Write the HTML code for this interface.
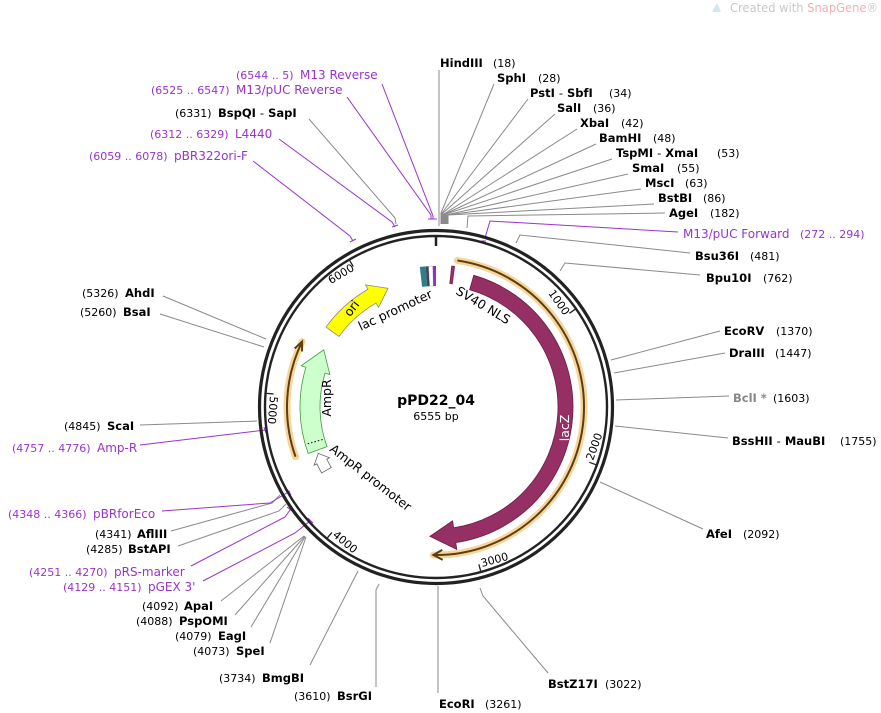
<!DOCTYPE html>
<html><head><meta charset="utf-8"><style>
html,body{margin:0;padding:0;background:#fff;}
svg{display:block;font-family:"DejaVu Sans","Liberation Sans",sans-serif;}
.b{font-weight:bold;font-size:11.5px;fill:#000}
.n{font-size:11px;fill:#000}
.p{font-size:12px;fill:#9933cc}
.pn{font-size:11px;fill:#9933cc}
.t{font-size:11px;fill:#000}
</style></head><body>
<svg id="s" width="881" height="713" viewBox="0 0 881 713" xmlns="http://www.w3.org/2000/svg">
<text x="730" y="12" textLength="148" lengthAdjust="spacingAndGlyphs" style="font-size:12px;fill:#c8c8c8">Created with <tspan fill="#f0b0b0">SnapGene</tspan>®</text>
<path d="M712 12 L717 3 L721 12" fill="#cde8ee"/>
<g id="lead" fill="none" stroke-width="1"></g>
<g id="ring"></g>
<g id="feat"></g>

<text x="440" y="67" class="b">HindIII</text><text x="493" y="67" class="n">(18)</text>
<text x="497" y="82" class="b">SphI</text><text x="538" y="82" class="n">(28)</text>
<text x="530" y="97" class="b">PstI <tspan font-weight="normal">-</tspan> SbfI</text><text x="609" y="97" class="n">(34)</text>
<text x="557" y="112" class="b">SalI</text><text x="593" y="112" class="n">(36)</text>
<text x="580" y="127" class="b">XbaI</text><text x="621" y="127" class="n">(42)</text>
<text x="599" y="142" class="b">BamHI</text><text x="653" y="142" class="n">(48)</text>
<text x="616" y="157" class="b">TspMI <tspan font-weight="normal">-</tspan> XmaI</text><text x="717" y="157" class="n">(53)</text>
<text x="632" y="172" class="b">SmaI</text><text x="677" y="172" class="n">(55)</text>
<text x="645" y="187" class="b">MscI</text><text x="685" y="187" class="n">(63)</text>
<text x="658" y="202" class="b">BstBI</text><text x="703" y="202" class="n">(86)</text>
<text x="669" y="217" class="b">AgeI</text><text x="710" y="217" class="n">(182)</text>
<text x="683" y="238" class="p">M13/pUC Forward</text><text x="800" y="238" class="pn">(272 .. 294)</text>
<text x="695" y="260" class="b">Bsu36I</text><text x="750" y="260" class="n">(481)</text>
<text x="706" y="282" class="b">Bpu10I</text><text x="763" y="282" class="n">(762)</text>
<text x="724" y="335" class="b">EcoRV</text><text x="776" y="335" class="n">(1370)</text>
<text x="729" y="357" class="b">DraIII</text><text x="775" y="357" class="n">(1447)</text>
<text x="733" y="402" class="b" style="fill:#888">BclI *</text><text x="773" y="402" class="n">(1603)</text>
<text x="732" y="445" class="b">BssHII <tspan font-weight="normal">-</tspan> MauBI</text><text x="840" y="445" class="n">(1755)</text>
<text x="706" y="538" class="b">AfeI</text><text x="743" y="538" class="n">(2092)</text>
<text x="548" y="688" class="b">BstZ17I</text><text x="605" y="688" class="n">(3022)</text>
<text x="439" y="708" class="b">EcoRI</text><text x="485" y="708" class="n">(3261)</text>
<text x="294" y="700" class="n">(3610)</text><text x="337" y="700" class="b">BsrGI</text>
<text x="219" y="682" class="n">(3734)</text><text x="262" y="682" class="b">BmgBI</text>
<text x="193" y="655" class="n">(4073)</text><text x="236" y="655" class="b">SpeI</text>
<text x="175" y="640" class="n">(4079)</text><text x="218" y="640" class="b">EagI</text>
<text x="136" y="625" class="n">(4088)</text><text x="179" y="625" class="b">PspOMI</text>
<text x="142" y="610" class="n">(4092)</text><text x="184" y="610" class="b">ApaI</text>
<text x="63" y="591" class="pn">(4129 .. 4151)</text><text x="148" y="591" class="p">pGEX 3'</text>
<text x="29" y="576" class="pn">(4251 .. 4270)</text><text x="114" y="576" class="p">pRS-marker</text>
<text x="86" y="553" class="n">(4285)</text><text x="128" y="553" class="b">BstAPI</text>
<text x="95" y="538" class="n">(4341)</text><text x="137" y="538" class="b">AflIII</text>
<text x="8" y="518" class="pn">(4348 .. 4366)</text><text x="93" y="518" class="p">pBRforEco</text>
<text x="82" y="297" class="n">(5326)</text><text x="125" y="297" class="b">AhdI</text>
<text x="80" y="316" class="n">(5260)</text><text x="123" y="316" class="b">BsaI</text>
<text x="64" y="430" class="n">(4845)</text><text x="107" y="430" class="b">ScaI</text>
<text x="12" y="452" class="pn">(4757 .. 4776)</text><text x="97" y="452" class="p">Amp-R</text>
<text x="236" y="79" class="pn">(6544 .. 5)</text><text x="300" y="79" class="p">M13 Reverse</text>
<text x="151" y="94" class="pn">(6525 .. 6547)</text><text x="236" y="94" class="p">M13/pUC Reverse</text>
<text x="175" y="117" class="n">(6331)</text><text x="218" y="117" class="b">BspQI <tspan font-weight="normal">-</tspan> SapI</text>
<text x="150" y="138" class="pn">(6312 .. 6329)</text><text x="235" y="138" class="p">L4440</text>
<text x="89" y="160" class="pn">(6059 .. 6078)</text><text x="174" y="160" class="p">pBR322ori-F</text>

<text x="436" y="405" text-anchor="middle" style="font-weight:bold;font-size:14px">pPD22_04</text>
<text x="436" y="420" text-anchor="middle" style="font-size:11px">6555 bp</text>

<text class="t" text-anchor="end" transform="translate(564,316) rotate(54.9)">1000</text>
<text class="t" text-anchor="end" transform="translate(355,270) rotate(-30.5)">6000</text>
<text class="t" transform="translate(593,461) rotate(-70.2)">2000</text>
<text class="t" transform="translate(482,567) rotate(-15.2)">3000</text>
<text class="t" transform="translate(332,536) rotate(39.7)">4000</text>
<text class="t" transform="translate(270,396) rotate(94.6)">5000</text>

<text transform="translate(397,314) rotate(-25)" text-anchor="middle" style="font-size:12.5px">lac promoter</text>
<text transform="translate(481,309) rotate(31)" text-anchor="middle" style="font-size:12.5px">SV40 NLS</text>
<text transform="translate(355,311) rotate(-52)" text-anchor="middle" style="font-size:12.5px">ori</text>
<text id="lz" transform="translate(569,428) rotate(-90)" text-anchor="middle" style="font-size:12.5px;fill:#fff">lacZ</text>
<text transform="translate(331,398) rotate(-90)" text-anchor="middle" style="font-size:12.5px">AmpR</text>
<text transform="translate(368,481) rotate(38)" text-anchor="middle" style="font-size:12.5px">AmpR promoter</text>
</svg>
<script>
var cx=436,cy=407,NS="http://www.w3.org/2000/svg";
function P(a,r){var t=a*Math.PI/180;return (cx+r*Math.sin(t)).toFixed(2)+" "+(cy-r*Math.cos(t)).toFixed(2);}
function el(g,tag,at,before){var e=document.createElementNS(NS,tag);for(var k in at)e.setAttribute(k,at[k]);document.getElementById(g).appendChild(e);return e;}
function A(a1,a2,r,sw){var l=Math.abs(a2-a1)>180?1:0;return "A"+r+" "+r+" 0 "+l+" "+sw+" "+P(a2,r);}
function cw(a1,a2,ri,ro,h,x){var b=a2-h,m=(ri+ro)/2;return "M"+P(a1,ro)+A(a1,b,ro,1)+"L"+P(b,ro+x)+"L"+P(a2,m)+"L"+P(b,ri-x)+"L"+P(b,ri)+A(b,a1,ri,0)+"Z";}
el("ring","circle",{cx:cx,cy:cy,r:176.5,fill:"none",stroke:"#222","stroke-width":3.2});
el("ring","circle",{cx:cx,cy:cy,r:171,fill:"none",stroke:"#222","stroke-width":2.4});
el("ring","line",{x1:436,y1:236,x2:436,y2:246,stroke:"#222","stroke-width":2.5});
[54.92,109.84,164.76,219.68,274.6,329.5].forEach(function(a){var p1=P(a,170).split(" "),p2=P(a,163).split(" ");el("ring","line",{x1:p1[0],y1:p1[1],x2:p2[0],y2:p2[1],stroke:"#222","stroke-width":1.3});});
function oarc(d){el("feat","path",{d:d,fill:"none",stroke:"#f8d49a","stroke-width":7,"stroke-linecap":"round"});el("feat","path",{d:d,fill:"none",stroke:"#5a4010","stroke-width":2});}
oarc("M"+P(8.3,148)+A(8.3,181,148,1));
oarc("M"+P(250.5,149)+A(250.5,296,149,1));
el("feat","path",{d:"M"+P(177.5,153)+"L"+P(181,148)+"L"+P(177.5,143),fill:"none",stroke:"#5a4010","stroke-width":2});
el("feat","path",{d:"M"+P(292.5,153)+"L"+P(296,149)+"L"+P(292.5,145),fill:"none",stroke:"#5a4010","stroke-width":2});
el("feat","path",{d:cw(16,182.7,122,137,11,7),fill:"#962f63",stroke:"#6a1f45","stroke-width":0.8});
el("feat","path",{d:cw(250,297,116,136,10,5),fill:"#ccffcc",stroke:"#3f9a3f","stroke-width":0.8});
el("feat","path",{d:"M"+P(254,118)+"L"+P(254,134),stroke:"#000","stroke-width":1,"stroke-dasharray":"1.5 2"});
el("feat","path",{d:cw(240,248.5,121,132,4,3),fill:"#fff",stroke:"#666","stroke-width":0.8});
el("feat","path",{d:cw(306,338,120,136,8,5),fill:"#ffff00",stroke:"#888","stroke-width":0.8});
function box(a1,a2,f,extra){var at={d:"M"+P(a1,121)+A(a1,a2,121,1)+"L"+P(a2,141)+A(a2,a1,141,0)+"Z",fill:f};for(var k in extra)at[k]=extra[k];el("feat","path",at);}
box(-6.6,-4.2,"#2e7f8c");box(-4.2,-3,"#445");
box(-3,-1.3,"#fff",{stroke:"#888","stroke-width":0.6,"stroke-dasharray":"1 1"});
box(-1.3,0,"#8833cc");
el("feat","path",{d:"M"+P(6.3,124)+A(6.3,7.6,124,1)+"L"+P(7.6,142)+A(7.6,6.3,142,0)+"Z",fill:"#962f63",stroke:"#6a1f45","stroke-width":0.5});
// move lacZ label above features
var lz=document.getElementById("lz");lz.parentNode.appendChild(lz);
var G="#8a8a8a",V="#9933cc";
var L=[
[G,"439,70 439,226",1.6,"#b5b5b5"],
[G,"494,84 441,213 441,224"],[G,"528,99 442,213 442,224"],[G,"555,114 443,213 443,224"],
[G,"577,129 444,214 444,224"],[G,"596,144 445,214 445,224"],[G,"612,159 446,214 446,224"],
[G,"628,174 446,215 446,224"],[G,"641,189 447,215 447,224"],[G,"654,204 448,215 448,224"],
[G,"665,213 468,216 467,228"],
[V,"678,232 490,221 485,238"],[V,"481,241 486,241"],
[G,"690,253 520,235 516,243"],[G,"700,275 565,263 560,271"],
[G,"720,331 611,360"],[G,"725,353 614,373"],[G,"729,396 616,400"],[G,"728,438 615,426"],[G,"703,529 600,482"],
[G,"548,673 483,596 480,588"],[G,"438,693 438,586",1.4,"#aaa"],[G,"376,687 376,590 379,584",1.4,"#aaa"],
[G,"310,665 358,571"],[G,"270,643 306,537"],[G,"251,627 305,537"],[G,"235,615 305,536"],[G,"221,601 304,536"],
[V,"203,581 295,533 310,521"],[V,"308,518 313,523"],
[V,"191,566 285,517 290,510"],[V,"287,507 292,511"],
[G,"178,546 279,511 286,504"],[G,"171,531 272,503 280,495"],
[V,"162,511 270,503 290,491"],[V,"287,489 291,495"],
[G,"163,296 266,339"],[G,"160,314 264,347"],[G,"140,425 257,421"],
[V,"140,445 265,430"],[V,"264,427 266,433"],
[V,"382,84 433,216 433,219"],[V,"347,97 431,215 431,219"],[V,"428,219 437,219"],
[G,"309,119 395,218 396,224"],[V,"279,139 392,222 395,227"],[V,"392,227 398,225"],
[V,"253,161 350,236 353,241"],[V,"350,242 356,239"]
];
L.forEach(function(l){el("lead","polyline",{points:l[1],stroke:l[3]||l[0],"stroke-width":l[2]||1,fill:"none"});});
</script>
</body></html>
